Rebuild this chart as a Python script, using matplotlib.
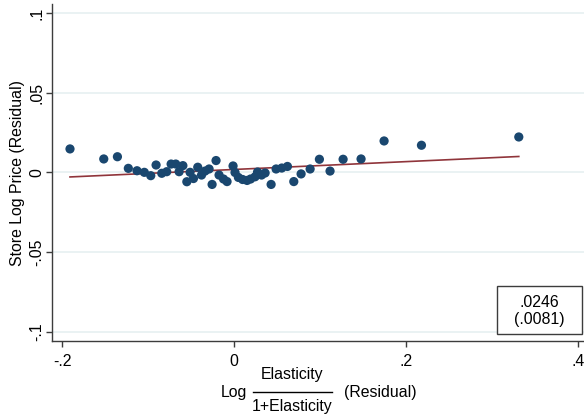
import matplotlib
matplotlib.use("Agg")
import matplotlib.pyplot as plt
from matplotlib.patches import Rectangle
from matplotlib.lines import Line2D
import numpy as np

plt.rcParams['font.family'] = ['Liberation Sans', 'DejaVu Sans']

# binned residual data
x_resid = [-0.1911, -0.1518, -0.1359, -0.1232, -0.1131, -0.1046, -0.0971, -0.0909,
           -0.0843, -0.0785, -0.0734, -0.0680, -0.0641, -0.0597, -0.0551, -0.0513,
           -0.0474, -0.0424, -0.0380, -0.0339, -0.0292, -0.0257, -0.0211, -0.0176,
           -0.0124, -0.0083, -0.0013, 0.0010, 0.0049, 0.0098, 0.0150, 0.0191,
           0.0243, 0.0272, 0.0319, 0.0360, 0.0430, 0.0488, 0.0554, 0.0620,
           0.0694, 0.0779, 0.0884, 0.0992, 0.1116, 0.1268, 0.1477, 0.1745,
           0.2180, 0.3313]
y_resid = [0.0148, 0.0085, 0.0099, 0.0026, 0.0011, 0.0001, -0.0020, 0.0047,
           -0.0005, 0.0005, 0.0053, 0.0053, 0.0005, 0.0043, -0.0058, 0.0001,
           -0.0038, 0.0033, -0.0016, 0.0009, 0.0022, -0.0075, 0.0075, -0.0016,
           -0.0041, -0.0057, 0.0041, 0.0000, -0.0031, -0.0044, -0.0050, -0.0041,
           -0.0027, 0.0003, -0.0016, -0.0003, -0.0075, 0.0022, 0.0028, 0.0038,
           -0.0057, -0.0009, 0.0022, 0.0083, 0.0009, 0.0083, 0.0085, 0.0198,
           0.0171, 0.0223]
fit_slope = 0.0246
fit_intercept = 0.0019
coef_text = ".0246"
se_text = "(.0081)"

x_ticks = [-0.2, 0.0, 0.2, 0.4]
x_ticklabels = ["-.2", "0", ".2", ".4"]
y_ticks = [-0.1, -0.05, 0.0, 0.05, 0.1]
y_ticklabels = ["-.1", "-.05", "0", ".05", ".1"]

W, H = 584, 416
fig = plt.figure(figsize=(W / 100, H / 100), dpi=100)
ax = fig.add_axes([52.3 / W, 1 - 341.3 / H, (W - 52.3) / W, (341.3 - 4) / H])

navy = "#1a476f"
maroon = "#90353b"
spine_c = "#3c3c3c"
fs = 11.4

ax.set_xlim(-0.2117, 0.4072)
ax.set_ylim(-0.106, 0.1058)

for yt in y_ticks:
    ax.axhline(yt, color="#eaf2f3", lw=1.4, zorder=0)

ax.scatter(x_resid, y_resid, s=44, color=navy, edgecolors="none", zorder=3)
xf = np.array([min(x_resid), max(x_resid)])
ax.plot(xf, fit_intercept + fit_slope * xf, color=maroon, lw=1.2, zorder=2)

for s in ["top", "right"]:
    ax.spines[s].set_visible(False)
for s in ["left", "bottom"]:
    ax.spines[s].set_color(spine_c)
    ax.spines[s].set_linewidth(1.0)

ax.set_xticks(x_ticks)
ax.set_xticklabels(x_ticklabels, fontsize=fs)
ax.set_yticks(y_ticks)
ax.set_yticklabels(y_ticklabels, fontsize=fs, rotation=90, va="center")
ax.tick_params(axis="both", direction="out", length=4.5, width=1.0, color=spine_c)
ax.tick_params(axis="x", pad=5)
ax.tick_params(axis="y", pad=1)

def fx(px):
    return px / W

def fy(py):
    return 1 - py / H

fig.text(fx(18), fy(172.5), "Store Log Price (Residual)", rotation=90,
         ha="center", va="center", fontsize=fs)

# x label with fraction
fig.text(fx(234), fy(392), "Log", ha="center", va="center", fontsize=fs)
fig.text(fx(292), fy(375), "Elasticity", ha="center", va="center", fontsize=fs)
fig.text(fx(292), fy(406), "1+Elasticity", ha="center", va="center", fontsize=fs)
fig.add_artist(Line2D([fx(252.7), fx(331.7)], [fy(392), fy(392)], color="black",
                      lw=1.0, transform=fig.transFigure))
fig.text(fx(380), fy(392.5), "(Residual)", ha="center", va="center", fontsize=fs)

# coefficient box
fig.add_artist(Rectangle((fx(497.3), fy(334)), fx(581.7) - fx(497.3), fy(286) - fy(334),
                         transform=fig.transFigure, facecolor="white",
                         edgecolor=spine_c, lw=1.0, zorder=5))
fig.text(fx(539.5), fy(302.5), coef_text, ha="center", va="center", fontsize=fs, zorder=6)
fig.text(fx(539.5), fy(319.5), se_text, ha="center", va="center", fontsize=fs, zorder=6)

fig.savefig("out.png", dpi=100, facecolor="white")
